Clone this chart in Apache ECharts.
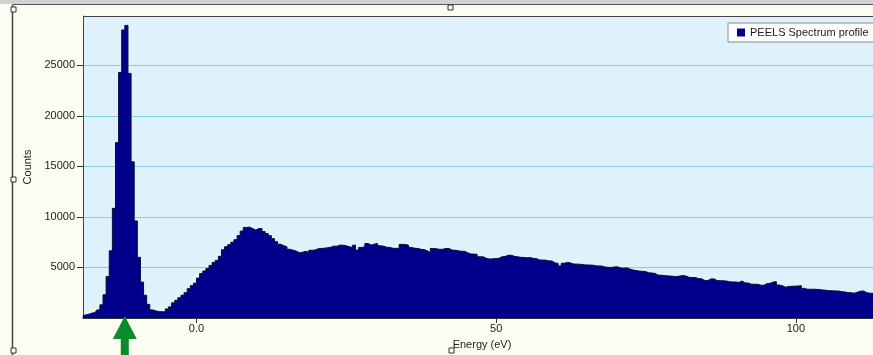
<!DOCTYPE html>
<html><head><meta charset="utf-8">
<script src="https://cdn.jsdelivr.net/npm/echarts@6/dist/echarts.min.js"></script>
<style>html,body{margin:0;padding:0;background:#FCFCF3;}#c{width:873px;height:355px;}</style>
</head><body><div id="c"></div>
<script>
// ---- data ----
const seriesName = 'PEELS Spectrum profile';
const binStart = -19.22;   // eV, left edge of first bin
const binWidth = 0.52;     // eV per channel
const counts = [
  250, 300, 380, 480, 550, 800, 1300, 2300, 4100, 6650,
  10850, 17350, 24300, 28500, 28950, 24200, 15450, 9600, 6000, 3550,
  2250, 1350, 800, 700, 630, 620, 620, 900, 1100, 1500,
  1750, 2000, 2250, 2500, 2900, 3200, 3450, 3950, 4400, 4650,
  4900, 5200, 5500, 5700, 6100, 6750, 7050, 7250, 7500, 7750,
  8150, 8600, 8950, 9000, 8850, 8700, 8850, 8850, 8550, 8350,
  8150, 7850, 7550, 7300, 7150, 7050, 6800, 6700, 6620, 6450,
  6500, 6600, 6490, 6700, 6720, 6850, 6880, 6900, 6950, 7000,
  7110, 7100, 7210, 7200, 7150, 7050, 6980, 7200, 6720, 6980,
  7050, 7370, 7220, 7300, 7380, 7150, 7100, 7000, 6980, 6900,
  6880, 6900, 7280, 7270, 7200, 6980, 6900, 6880, 6790, 6770,
  6650, 6490, 6880, 6850, 6790, 6800, 6880, 6870, 6720, 6700,
  6650, 6600, 6600, 6450, 6330, 6320, 6300, 6060, 6050, 5900,
  5830, 5850, 5880, 5900, 6060, 6080, 6220, 6200, 6100, 6060,
  6000, 5990, 5950, 5980, 5900, 5880, 5750, 5730, 5720, 5650,
  5640, 5450, 5400, 5150, 5420, 5500, 5450, 5340, 5330, 5320,
  5280, 5250, 5240, 5230, 5170, 5150, 5140, 5050, 5010, 5000,
  5050, 5060, 4960, 4920, 4970, 4850, 4750, 4700, 4640, 4620,
  4600, 4480, 4450, 4420, 4250, 4230, 4200, 4170, 4150, 4120,
  4100, 4150, 4200, 4150, 4020, 4000, 4010, 3900, 3880, 3720,
  3700, 3860, 3870, 3700, 3690, 3680, 3650, 3580, 3570, 3560,
  3520, 3660, 3470, 3460, 3350, 3340, 3330, 3250, 3240, 3400,
  3430, 3560, 3590, 3260, 3180, 3050, 3120, 3140, 3150, 3160,
  3200, 2930, 2850, 2840, 2850, 2830, 2800, 2760, 2740, 2700,
  2690, 2680, 2670, 2600, 2580, 2510, 2500, 2450, 2550, 2650,
  2670, 2500, 2450, 2450, 2450
];
const xTickValues = [0, 50, 100];
const yTickValues = [5000, 10000, 15000, 20000, 25000];
const arrowEnergy = -11.95;
const xMin = -18.92, xMax = 112.86, yMax = 29880;

// ---- chart ----
const FONT = '"Liberation Sans", Arial, sans-serif';
const data = counts.map((c, i) => [binStart + (i + 0.5) * binWidth, c]);
const GL = 83, GT = 16, GB = 37, GR = -2, W = 873, H = 355;

const chart = echarts.init(document.getElementById('c'), null, {renderer: 'canvas'});
chart.setOption({
  animation: false,
  backgroundColor: '#FCFCF3',
  textStyle: {fontFamily: FONT},
  grid: {left: GL, top: GT, right: GR, bottom: GB, show: true, backgroundColor: '#DFF1FB', borderWidth: 0},
  legend: {
    left: 728, top: 23, itemWidth: 8, itemHeight: 8, padding: [4, 10, 4, 9],
    backgroundColor: '#FDFDFB', borderColor: '#8a8a8a', borderWidth: 1, borderRadius: 0,
    textStyle: {fontSize: 11, color: '#222', fontFamily: FONT},
    data: [{name: seriesName, icon: 'rect', itemStyle: {color: '#00008B'}}]
  },
  xAxis: {
    type: 'value', min: xMin, max: xMax,
    name: 'Energy (eV)', nameLocation: 'middle', nameGap: 21,
    nameTextStyle: {fontSize: 11, color: '#222', fontFamily: FONT, padding: [0, 0, 0, 8]},
    axisLine: {show: true, onZero: false, lineStyle: {color: '#333', width: 1}},
    axisTick: {show: true, length: 5, lineStyle: {color: '#333'}, customValues: xTickValues},
    axisLabel: {customValues: xTickValues, fontSize: 11, color: '#222', fontFamily: FONT, margin: 5,
      formatter: v => (v === 0 ? '0.0' : String(v))},
    splitLine: {show: false}
  },
  yAxis: {
    type: 'value', min: 0, max: yMax, interval: 5000,
    name: 'Counts', nameLocation: 'middle', nameGap: 50,
    nameTextStyle: {fontSize: 11, color: '#222', fontFamily: FONT},
    axisLine: {show: true, onZero: false, lineStyle: {color: '#444'}},
    axisTick: {show: true, length: 6, lineStyle: {color: '#333'}, customValues: yTickValues},
    axisLabel: {customValues: yTickValues, fontSize: 11, color: '#222', fontFamily: FONT, margin: 8,
      formatter: v => String(v)},
    splitLine: {show: true, lineStyle: {color: '#86CFE0', width: 1}}
  },
  series: [{
    type: 'line', name: seriesName, data: data, step: 'middle',
    showSymbol: false, symbol: 'none', clip: true,
    lineStyle: {color: '#0b0b3a', width: 1},
    areaStyle: {color: '#00008B', opacity: 1},
    itemStyle: {color: '#00008B'}
  }]
});

const ax = chart.convertToPixel({xAxisIndex: 0}, arrowEnergy);
const ay = chart.convertToPixel({yAxisIndex: 0}, 0);
function handle(x, y) {
  return {type: 'rect', shape: {x: x, y: y, width: 5, height: 5},
    style: {fill: '#fff', stroke: '#333', lineWidth: 1}, z: 120};
}
chart.setOption({
  graphic: [
    {type: 'rect', shape: {x: 0, y: 0, width: W, height: 4}, style: {fill: '#D2D2D2'}, z: 100},
    {type: 'line', shape: {x1: 13, y1: 4.5, x2: W, y2: 4.5}, style: {stroke: '#555', lineWidth: 1}, z: 101},
    {type: 'line', shape: {x1: 12.5, y1: 4.5, x2: 12.5, y2: H}, style: {stroke: '#444', lineWidth: 1.5}, z: 101},
    {type: 'line', shape: {x1: GL, y1: GT + 0.5, x2: W, y2: GT + 0.5}, style: {stroke: '#444', lineWidth: 1}, z: 101},
    handle(11, 7), handle(11, 177), handle(11, 348), handle(448, 5), handle(449, 348),
    {type: 'polygon', z: 110,
      shape: {points: [[ax, ay - 2], [ax + 12, ay + 21], [ax + 4, ay + 21], [ax + 4, ay + 40],
        [ax - 4, ay + 40], [ax - 4, ay + 21], [ax - 12, ay + 21]]},
      style: {fill: '#0A8C2A'}}
  ]
});
</script>
</body></html>
